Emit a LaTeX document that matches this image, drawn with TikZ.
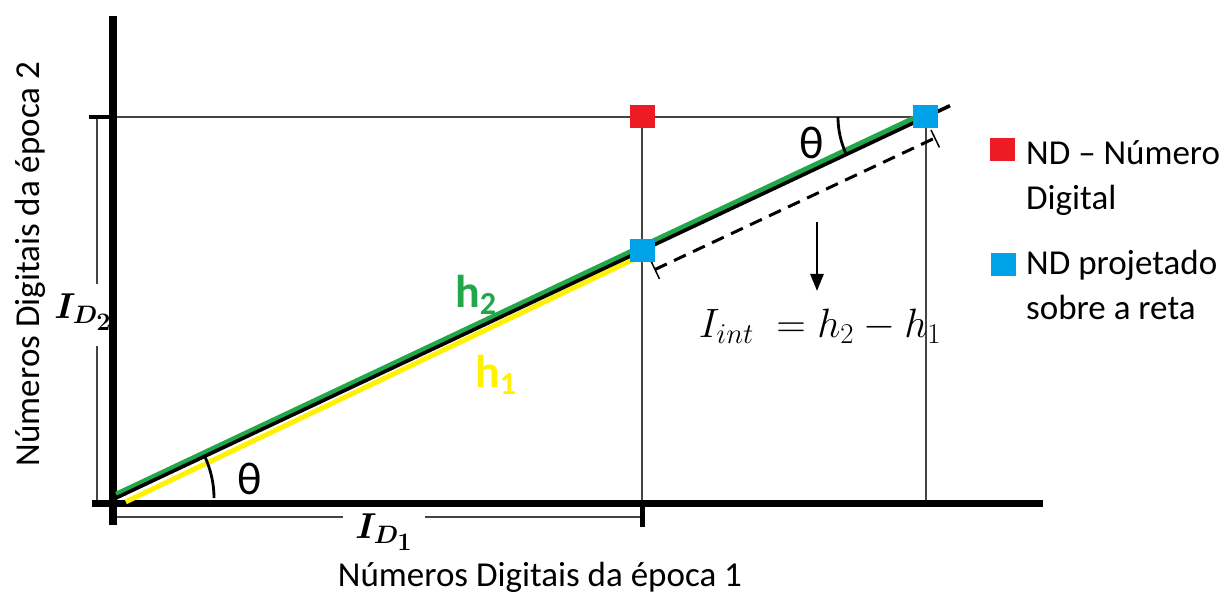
\documentclass[tikz,border=0pt]{standalone}
\usepackage{fix-cm}
\usepackage{fontspec}
\setmainfont{Carlito}
\usetikzlibrary{arrows.meta,calc}
\definecolor{ndred}{HTML}{ED1C24}
\definecolor{ndblue}{HTML}{00A2E8}
\definecolor{hgreen}{HTML}{22A84A}
\definecolor{hyellow}{HTML}{FFF200}
\definecolor{thin}{HTML}{444444}
\tikzset{
  axisline/.style={line width=8pt},
  thinline/.style={line width=1.6pt, draw=thin},
  tickline/.style={line width=4pt},
  sq/.style={minimum width=25pt, minimum height=23pt, inner sep=0pt, fill=#1},
  txt/.style={font=\fontsize{35}{45}\selectfont, inner sep=0pt},
  hlab/.style={font=\fontsize{46}{50}\selectfont\bfseries, text=#1, inner sep=0pt},
  thlab/.style={font=\fontsize{46}{50}\selectfont, inner sep=0pt},
  dimlab/.style={font=\fontsize{36}{42}\selectfont\boldmath, inner sep=0pt}
}
\begin{document}
\begin{tikzpicture}[x=1pt,y=1pt]
\useasboundingbox (0,0) rectangle (1227,599);
% key points
\coordinate (O) at (116,101);
\coordinate (C) at (926,482);
\coordinate (B) at (642,348.4);
\coordinate (E) at (950,493.3);
\coordinate (off) at (-1.8,3.8);
% thin guide lines
\draw[thinline] (113,482) -- (C);
\draw[thinline] (642,482) -- (642,95);
\draw[thinline] (926,482) -- (926,95);
% dimension lines
\draw[thinline] (97,482) -- (97,315);
\draw[thinline] (97,253) -- (97,97);
\draw[thinline] (113,82) -- (343,82);
\draw[thinline] (425,82) -- (642,82);
% axes
\draw[axisline] (113,583) -- (113,74);
\draw[axisline, line width=7pt] (92,95) -- (1043,95);
\draw[tickline] (89,482) -- (113,482);
\draw[tickline, line width=5pt] (642,95) -- (642,72);
% diagonal with coloured borders
\draw[line width=5pt, hgreen] ($(O)+(off)+(2,0)$) -- ($(C)+(off)$);
\draw[line width=5pt, hyellow] ($(O)-(off)+(8,0)$) -- ($(B)-(off)$);
\draw[line width=3.6pt] (O) -- (E);
% dashed parallel with end ticks
\coordinate (D1) at (655,329.5);
\coordinate (D2) at (935,461);
\draw[line width=3pt, dash pattern=on 13pt off 8pt] (D1) -- (D2);
\draw[line width=1.5pt] ($(D1)+(-4.5,9.5)$) -- ($(D1)+(4.5,-9.5)$);
\draw[line width=1.5pt] ($(D2)+(-4,8)$) -- ($(D2)+(4.5,-9.5)$);
% angle arcs
\draw[line width=2.8pt] ($(O)+(98,0)$) arc[start angle=0, end angle=25.19, radius=98];
\draw[line width=2.8pt] ($(C)+(-88,0)$) arc[start angle=180, end angle=205.19, radius=88];
\node[thlab] (th1) at (250,120) {θ};
\node[thlab] (th2) at (812,456) {θ};
% squares
\node[sq=ndred] (red) at (642,482) {};
\node[sq=ndblue] (blue1) at (B) {};
\node[sq=ndblue] (blue2) at (925,482.5) {};
% arrow and formula
\coordinate (ar1) at (817,377);
\coordinate (ar2) at (817,308);
\draw[line width=2.6pt, -{Triangle[length=17pt,width=13pt]}] (ar1) -- (ar2);
\node[inner sep=0pt, font=\fontsize{41}{46}\selectfont] (form) at (820,273) {$I_{int}\;=h_2-h_1$};
% h labels
\node[hlab=hgreen, anchor=base west] (h2) at (455,291) {h\textsubscript{2}};
\node[hlab=hyellow, anchor=base west] (h1) at (475,211) {h\textsubscript{1}};
% dimension labels
\node[dimlab] (id2) at (83,287) {$I_{D_{\scriptstyle 2}}$};
\node[dimlab] (id1) at (384,67) {$I_{D_{\scriptstyle 1}}$};
% axis labels
\node[txt] (xl) at (540,22) {Números Digitais da época 1};
\node[txt, rotate=90] (yl) at (30,335) {Números Digitais da época 2};
% legend
\node[sq=ndred] (lr) at (1002,449) {};
\node[sq=ndblue] (lb) at (1003,334) {};
\node[txt, anchor=base west, align=left] (lt1) at (1026,389) {ND – Número\\Digital};
\node[txt, anchor=base west, align=left] (lt2) at (1026,279) {ND projetado\\sobre a reta};
\end{tikzpicture}
\end{document}
